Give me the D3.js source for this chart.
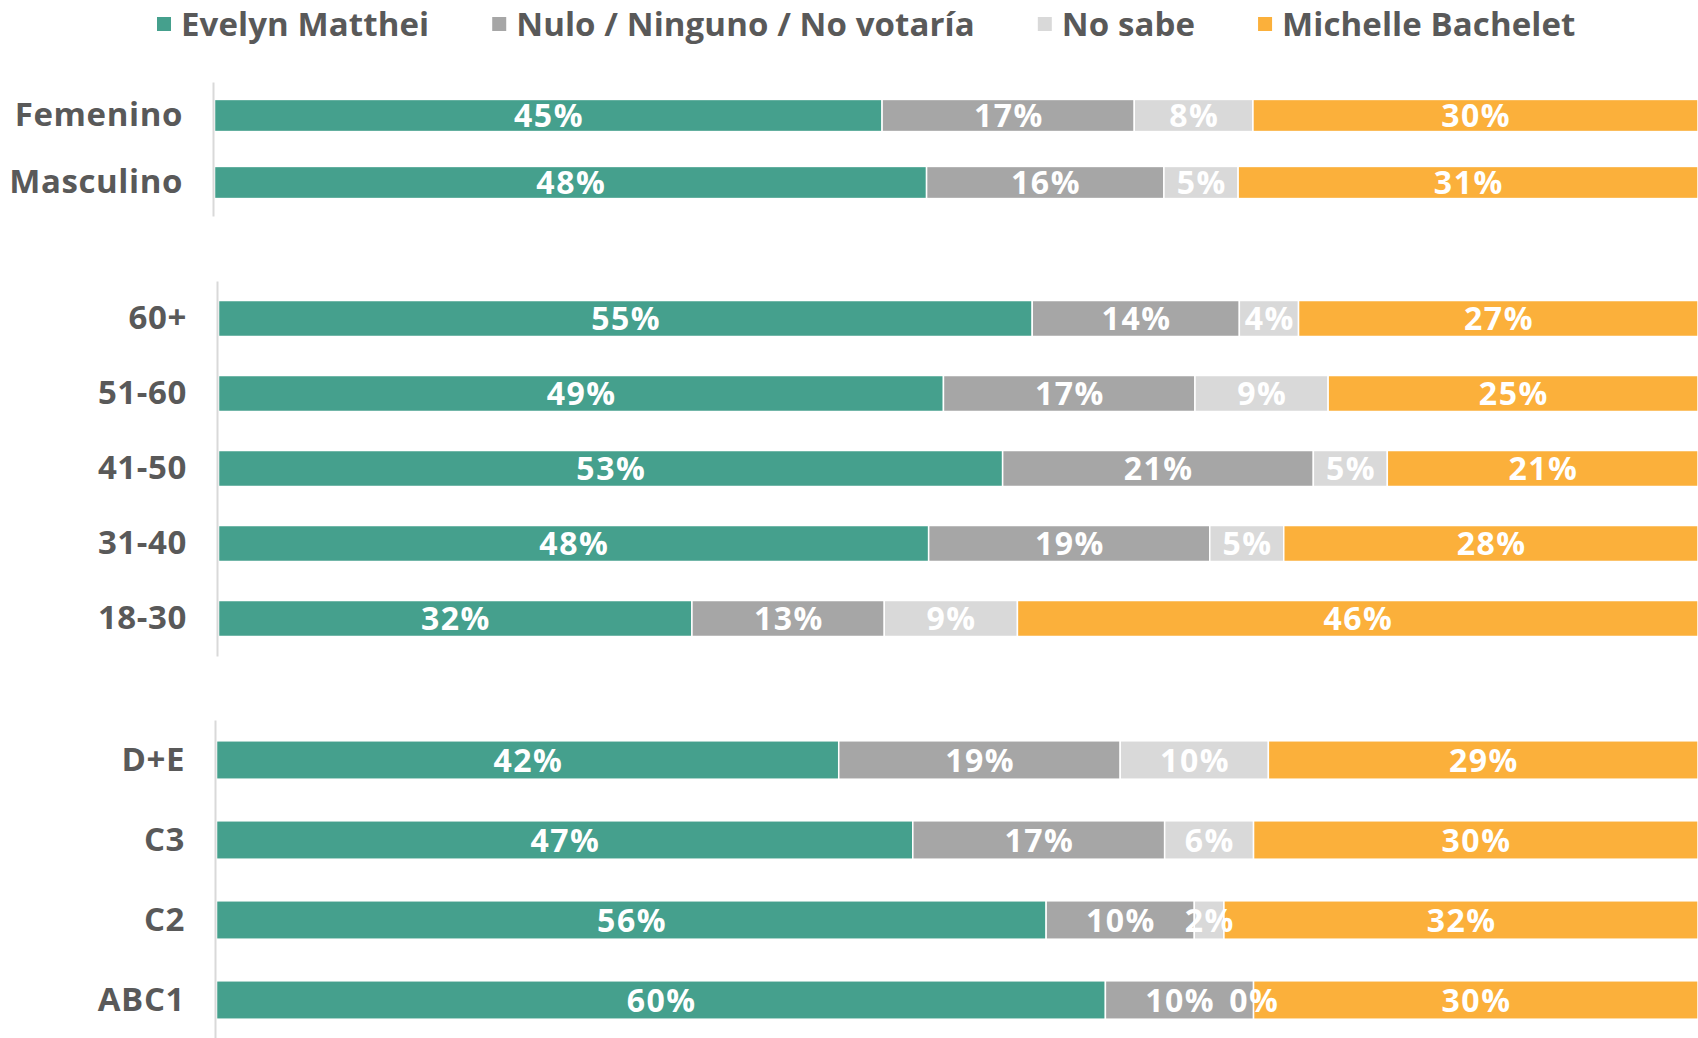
<!DOCTYPE html>
<html>
<head>
<meta charset="utf-8">
<script src="https://cdn.jsdelivr.net/npm/d3@7"></script>
<style>
  body { margin: 0; background: #fff; }
  svg { display: block; font-family: "Open Sans", sans-serif; }
</style>
</head>
<body>
<script>
// categories per group (top to bottom)
const sexo = ["Femenino", "Masculino"];
const edad = ["60+", "51-60", "41-50", "31-40", "18-30"];
const gse = ["D+E", "C3", "C2", "ABC1"];

const seriesNames = ["Evelyn Matthei", "Nulo / Ninguno / No votaría", "No sabe", "Michelle Bachelet"];
const seriesColors = ["#45a08d", "#a6a6a6", "#d9d9d9", "#fbb03b"];

// values in order: sexo, edad, gse
const matthei  = [45, 48, 55, 49, 53, 48, 32, 42, 47, 56, 60];
const nulo     = [17, 16, 14, 17, 21, 19, 13, 19, 17, 10, 10];
const noSabe   = [ 8,  5,  4,  9,  5,  5,  9, 10,  6,  2,  0];
const bachelet = [30, 31, 27, 25, 21, 28, 46, 29, 30, 32, 30];

function main(){
  let W = 1698, H = 1038;
  let svg = d3.select("body").append("svg").attr("width", W).attr("height", H);

  let allCats = sexo.concat(edad, gse);
  let rows = allCats.map((c, i) => ({
    cat: c,
    [seriesNames[0]]: matthei[i],
    [seriesNames[1]]: nulo[i],
    [seriesNames[2]]: noSabe[i],
    [seriesNames[3]]: bachelet[i]
  }));
  let stacked = d3.stack().keys(seriesNames)(rows);
  let color = d3.scaleOrdinal(seriesNames, seriesColors);

  // panel layout
  let panels = [
    {cats: sexo, x0: 214.5, y: [82, 216]},
    {cats: edad, x0: 218.5, y: [281, 656]},
    {cats: gse,  x0: 216.5, y: [720, 1040]}
  ];

  panels.forEach(p => {
    let x = d3.scaleLinear().domain([0, 100]).range([p.x0, W]);
    let y = d3.scaleBand().domain(p.cats).range(p.y).paddingInner(0.52).paddingOuter(0.26);
    let g = svg.append("g");

    // bars
    stacked.forEach(s => {
      let pts = s.filter(d => p.cats.includes(d.data.cat));
      g.append("g").selectAll("rect").data(pts).join("rect")
        .attr("x", d => x(d[0]))
        .attr("y", d => y(d.data.cat))
        .attr("width", d => Math.max(0, x(d[1]) - x(d[0])))
        .attr("height", y.bandwidth())
        .attr("fill", color(s.key))
        .attr("stroke", "#fff")
        .attr("stroke-width", 1.5);
    });

    // value labels
    stacked.forEach(s => {
      let pts = s.filter(d => p.cats.includes(d.data.cat));
      g.append("g").selectAll("text").data(pts).join("text")
        .attr("x", d => (x(d[0]) + x(d[1])) / 2 + 0.75)
        .attr("y", d => y(d.data.cat) + y.bandwidth() / 2)
        .attr("dy", "0.37em")
        .attr("text-anchor", "middle")
        .attr("fill", "#fff")
        .style("font-size", "32px")
        .style("letter-spacing", "1.5px")
        .style("font-weight", 700)
        .text(d => (d[1] - d[0]) + "%");
    });

    // axis with category labels
    let axis = g.append("g")
      .attr("transform", "translate(" + (p.x0 - 1.5) + ",0)")
      .call(d3.axisLeft(y).tickSize(0).tickSizeOuter(0).tickPadding(30));
    axis.select(".domain").attr("stroke", "#d9d9d9").attr("stroke-width", 2);
    axis.selectAll("text")
      .attr("fill", "#595959")
      .style("font-family", "Open Sans, sans-serif")
      .style("font-size", "33px")
      .style("letter-spacing", "0.6px")
      .style("font-weight", 700);
  });

  // legend
  let legend = svg.append("g").attr("transform", "translate(157,24)");
  let lx = 0;
  seriesNames.forEach((name, i) => {
    let item = legend.append("g").attr("transform", "translate(" + lx + ",0)");
    item.append("rect")
      .attr("x", 0).attr("y", -7)
      .attr("width", 14).attr("height", 14)
      .attr("fill", seriesColors[i]);
    let t = item.append("text")
      .attr("x", 24).attr("dy", "0.36em")
      .attr("fill", "#595959")
      .style("font-size", "33px")
      .style("letter-spacing", "0.1px")
      .style("font-weight", 700)
      .text(name);
    lx += 24 + t.node().getComputedTextLength() + 63;
  });
}
main();
</script>
</body>
</html>
